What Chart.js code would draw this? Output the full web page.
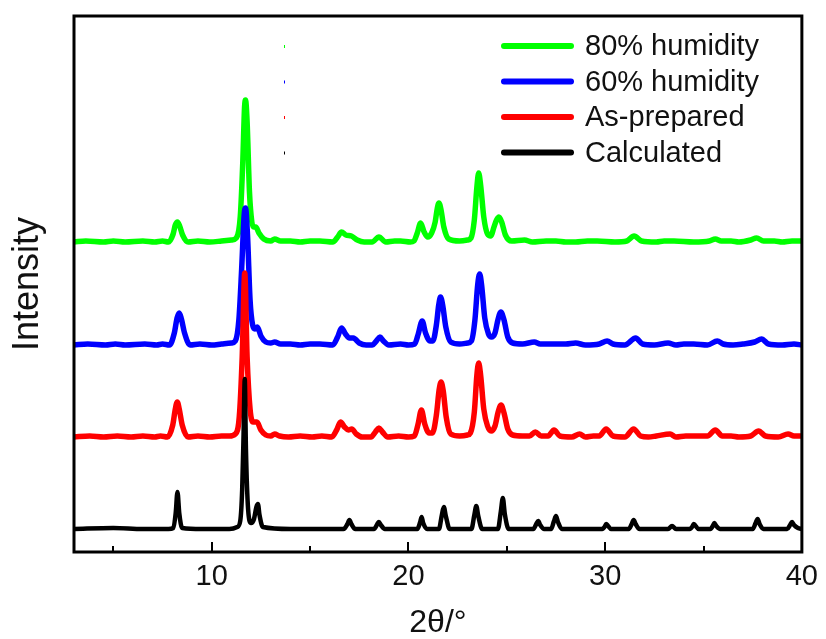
<!DOCTYPE html>
<html>
<head>
<meta charset="utf-8">
<script src="https://cdn.jsdelivr.net/npm/chart.js@4/dist/chart.umd.min.js"></script>
<style>
  html, body { margin: 0; padding: 0; background: #ffffff; }
  #wrap { width: 826px; height: 639px; }
</style>
</head>
<body>
<div id="wrap"><canvas id="c" width="826" height="639"></canvas></div>
<script>
// ---------- DATA ----------
// series names (drawing order: first is on top)
const seriesNames = ['Calculated', 'As-prepared', '60% humidity', '80% humidity'];
// legend order as shown in the figure
const legendOrder = ['80% humidity', '60% humidity', 'As-prepared', 'Calculated'];
// vertical stacking offset of each pattern (arbitrary intensity units)
const offsets = [23, 115, 207, 310];

// [2θ, intensity above own baseline]
const calculated = [[3,0],[5,1],[6.5,0],[7.8,0],[8.05,1],[8.17,16],[8.26,37],[8.35,16],[8.5,1],[9.5,0],[10.9,0],[11.3,2],[11.45,8],[11.55,40],[11.62,95],[11.68,150],[11.74,80],[11.85,20],[12.0,6],[12.15,10],[12.27,22],[12.35,25],[12.43,14],[12.6,2],[14,0],[16.7,0],[16.9,5],[17.0,9],[17.1,5],[17.3,0],[18.25,0],[18.42,5],[18.5,7],[18.6,4],[18.8,0],[20.45,0],[20.6,7],[20.67,12],[20.75,6],[20.95,0],[21.55,0],[21.7,14],[21.8,22],[21.9,13],[22.1,0],[23.2,0],[23.35,14],[23.45,23],[23.55,13],[23.75,0],[24.55,0],[24.7,18],[24.8,31],[24.9,15],[25.1,0],[26.35,0],[26.5,5],[26.6,8],[26.7,4],[26.9,0],[27.25,0],[27.4,8],[27.5,13],[27.6,7],[27.8,0],[29.85,0],[30.0,3],[30.05,5],[30.15,3],[30.3,0],[31.2,0],[31.35,5],[31.45,9],[31.55,5],[31.75,0],[33.2,0],[33.4,3],[33.6,0],[34.3,0],[34.45,3],[34.5,5],[34.6,3],[34.75,0],[35.35,0],[35.5,4],[35.55,6],[35.65,3],[35.85,0],[37.5,0],[37.65,6],[37.75,10],[37.85,5],[38.05,0],[39.25,0],[39.4,4],[39.5,7],[39.6,4],[39.8,1],[40,0]];

const asPrepared = [[3,0],[3.8,1],[4.5,0],[5.2,1],[5.9,0],[6.5,1],[7.1,0],[7.4,1],[7.75,0],[8.02,12],[8.15,28],[8.25,35],[8.35,28],[8.5,12],[8.8,0],[9.3,1],[9.9,0],[10.5,1],[10.9,1],[11.2,3],[11.4,20],[11.55,80],[11.68,164],[11.8,80],[11.95,28],[12.1,15],[12.3,15],[12.5,7],[12.75,2],[13.0,1],[13.2,3],[13.45,1],[13.9,0],[14.5,1],[15.1,0],[15.6,1],[16.1,0],[16.35,7],[16.55,15],[16.75,10],[16.95,7],[17.12,8],[17.35,3],[17.65,0],[18.1,0],[18.32,5],[18.5,9],[18.68,5],[18.95,0],[19.5,1],[20.0,0],[20.3,1],[20.48,12],[20.66,27],[20.83,13],[21.05,4],[21.22,4],[21.42,22],[21.56,47],[21.66,55],[21.77,46],[21.92,20],[22.15,3],[22.6,1],[23.0,2],[23.15,4],[23.35,25],[23.48,62],[23.57,74],[23.67,62],[23.83,28],[24.02,11],[24.2,6],[24.4,11],[24.56,25],[24.71,32],[24.86,24],[25.05,8],[25.3,2],[25.8,1],[26.15,1],[26.45,5],[26.75,1],[27.1,1],[27.4,7],[27.7,1],[28.3,0],[28.7,3],[29.0,0],[29.4,1],[29.7,1],[30.05,8],[30.4,1],[31.0,0],[31.45,8],[31.8,1],[32.2,0],[32.6,1],[33.3,3],[33.6,0],[34.1,1],[34.5,1],[35.2,1],[35.6,7],[35.95,1],[36.4,1],[36.8,0],[37.4,1],[37.8,6],[38.15,1],[38.8,0],[39.3,3],[39.6,1],[40,1]];

const humidity60 = [[3,0],[3.7,1],[4.6,0],[5.1,1],[5.6,0],[6.6,1],[7.2,0],[7.5,1],[7.85,0],[8.1,12],[8.24,27],[8.35,32],[8.46,26],[8.62,12],[8.9,0],[9.4,1],[10.0,0],[10.5,1],[11.0,2],[11.2,4],[11.38,25],[11.52,75],[11.65,130],[11.72,137],[11.82,110],[11.95,45],[12.08,20],[12.2,16],[12.32,18],[12.5,9],[12.75,3],[13.0,2],[13.2,3],[13.5,1],[14.0,1],[14.5,0],[15.0,1],[15.5,1],[16.15,0],[16.4,8],[16.6,17],[16.8,11],[17.0,7],[17.2,7],[17.5,2],[17.85,0],[18.15,0],[18.37,4],[18.55,8],[18.73,4],[19.0,0],[19.6,1],[20.0,0],[20.32,1],[20.5,11],[20.7,24],[20.87,12],[21.1,4],[21.24,4],[21.42,20],[21.54,40],[21.63,48],[21.74,40],[21.9,18],[22.15,3],[22.6,1],[23.0,2],[23.2,4],[23.38,25],[23.52,60],[23.62,71],[23.72,60],[23.88,27],[24.07,11],[24.22,8],[24.4,12],[24.56,26],[24.7,33],[24.86,25],[25.05,8],[25.3,2],[25.8,1],[26.4,3],[26.7,1],[27.1,1],[27.5,1],[28.0,1],[28.5,2],[29.0,0],[29.7,1],[30.1,4],[30.4,1],[31.0,0],[31.55,7],[31.9,1],[32.5,0],[33.2,2],[33.6,0],[34.0,1],[34.5,1],[35.2,0],[35.7,4],[36.0,1],[36.5,0],[37.0,1],[37.6,3],[37.95,6],[38.3,1],[39.0,0],[39.6,1],[40,0]];

const humidity80 = [[3,0],[3.6,1],[4.5,0],[5.0,1],[5.6,0],[6.5,1],[7.1,0],[7.5,1],[7.8,0],[8.04,8],[8.15,17],[8.26,20],[8.37,16],[8.52,7],[8.8,0],[9.3,1],[9.9,0],[10.5,1],[11.0,2],[11.25,4],[11.45,25],[11.58,80],[11.67,135],[11.72,142],[11.8,120],[11.92,50],[12.04,20],[12.14,15],[12.24,15],[12.4,9],[12.65,3],[13.0,1],[13.2,3],[13.5,1],[14.0,1],[14.5,0],[15.0,1],[15.5,1],[16.15,0],[16.4,5],[16.6,10],[16.82,7],[17.1,6],[17.4,2],[17.75,0],[18.15,0],[18.5,5],[18.85,0],[19.3,1],[19.6,1],[20.1,0],[20.28,1],[20.45,9],[20.62,19],[20.8,10],[20.98,5],[21.18,9],[21.36,20],[21.47,34],[21.55,39],[21.65,33],[21.8,15],[22.05,3],[22.6,1],[23.0,2],[23.18,4],[23.35,22],[23.48,55],[23.57,69],[23.67,57],[23.83,25],[24.02,8],[24.18,6],[24.35,15],[24.48,22],[24.6,25],[24.74,20],[24.93,7],[25.25,1],[25.9,2],[26.3,0],[27.0,1],[27.5,1],[28.0,0],[28.5,0],[29.1,1],[29.6,1],[30.5,0],[31.1,1],[31.47,6],[31.85,1],[32.6,0],[33.0,1],[33.5,1],[34.5,0],[35.3,1],[35.6,3],[35.9,1],[36.4,1],[36.8,0],[37.4,2],[37.7,4],[38.05,1],[38.6,1],[39.0,0],[39.5,1],[40,1]];

const seriesData = [calculated, asPrepared, humidity60, humidity80];

// axis
const xMin = 3, xMax = 40;
const xTickLabels = [10, 20, 30, 40];
const xMinorTicks = [5, 15, 25, 35];
const yMin = 0, yMax = 536;

// ---------- STYLE ----------
const colors = {
  'Calculated': '#000000',
  'As-prepared': '#ff0000',
  '60% humidity': '#0000ff',
  '80% humidity': '#00ff00'
};
const FONT = "'Liberation Sans', Arial, sans-serif";

const datasets = seriesNames.map((name, i) => ({
  label: name,
  data: seriesData[i].map(p => ({ x: p[0], y: p[1] + offsets[i] })),
  borderColor: colors[name],
  backgroundColor: colors[name],
  borderWidth: i === 0 ? 4.5 : 5.5,
  pointRadius: 0,
  fill: false,
  cubicInterpolationMode: 'monotone',
  borderJoinStyle: 'round',
  borderCapStyle: 'round'
}));

const framePlugin = {
  id: 'frameTicks',
  afterDatasetsDraw(chart) {
    const { ctx, chartArea: a, scales: { x } } = chart;
    ctx.save();
    ctx.strokeStyle = '#000';
    ctx.lineWidth = 2;
    const tick = (v, len) => {
      const px = Math.round(x.getPixelForValue(v));
      ctx.beginPath();
      ctx.moveTo(px, a.bottom);
      ctx.lineTo(px, a.bottom - len);
      ctx.stroke();
    };
    xTickLabels.forEach(v => tick(v, 10));
    xMinorTicks.forEach(v => tick(v, 6));
    ctx.lineWidth = 3;
    ctx.strokeRect(a.left, a.top, a.right - a.left, a.bottom - a.top);
    ctx.restore();
  }
};

const legendPlugin = {
  id: 'insideLegend',
  afterDraw(chart) {
    const { ctx } = chart;
    const o = chart.options.plugins.insideLegend;
    ctx.save();
    legendOrder.forEach((name, k) => {
      const y = o.top + k * o.rowGap;
      ctx.strokeStyle = colors[name];
      ctx.lineWidth = 6;
      ctx.lineCap = 'round';
      ctx.beginPath();
      ctx.moveTo(o.lineX0, y);
      ctx.lineTo(o.lineX1, y);
      ctx.stroke();
      ctx.fillStyle = colors[name];
      ctx.fillRect(o.dotX, y - 1, 1, 3);
      ctx.fillStyle = '#111';
      ctx.font = '29px ' + FONT;
      ctx.textBaseline = 'middle';
      ctx.textAlign = 'left';
      ctx.fillText(name, o.textX, y + 1);
    });
    ctx.restore();
  }
};

new Chart(document.getElementById('c'), {
  type: 'line',
  data: { datasets },
  options: {
    responsive: false,
    animation: false,
    events: [],
    layout: { padding: { top: 16, right: 20, left: 0, bottom: 0 } },
    plugins: {
      legend: { display: false },
      tooltip: { enabled: false },
      insideLegend: { top: 46, rowGap: 35.5, lineX0: 504, lineX1: 571, textX: 585, dotX: 284 }
    },
    scales: {
      x: {
        type: 'linear',
        min: xMin, max: xMax,
        afterBuildTicks(scale) { scale.ticks = xTickLabels.map(v => ({ value: v })); },
        afterFit(scale) { scale.height = 87; },
        grid: { display: false, drawTicks: false },
        border: { display: false },
        ticks: { color: '#111', font: { family: FONT, size: 29 }, padding: 8, maxRotation: 0 },
        title: { display: true, text: '2θ/°', color: '#111', font: { family: FONT, size: 32, lineHeight: 1 }, padding: { top: 0, bottom: 0 } }
      },
      y: {
        type: 'linear',
        min: yMin, max: yMax,
        afterFit(scale) { scale.width = 74; },
        grid: { display: false, drawTicks: false },
        border: { display: false },
        ticks: { display: false },
        title: { display: true, text: 'Intensity', color: '#111', font: { family: FONT, size: 36, lineHeight: 1 }, padding: { top: 10, bottom: 0 } }
      }
    }
  },
  plugins: [framePlugin, legendPlugin]
});
</script>
</body>
</html>
